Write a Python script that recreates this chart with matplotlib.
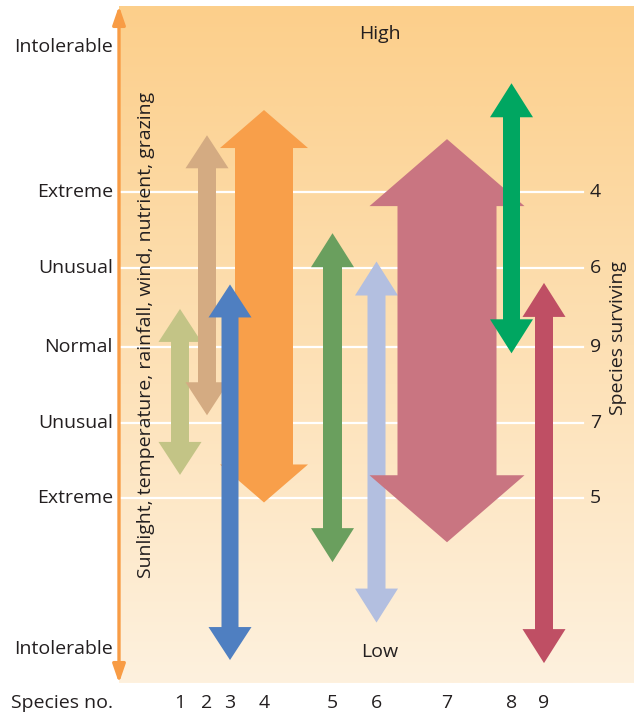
"""
Tolerance ranges of nine species along an environmental gradient
"""
import numpy as np
import matplotlib
matplotlib.use("Agg")
import matplotlib.pyplot as plt
from matplotlib.patches import Polygon
from matplotlib.colors import LinearSegmentedColormap

plt.rcParams['font.family'] = ['Open Sans', 'DejaVu Sans']

# species and their tolerance range (normal = 0, unusual = +-1, extreme = +-2)
species = ["1", "2", "3", "4", "5", "6", "7", "8", "9"]
species_x = [61, 88, 111, 145, 213.5, 257.5, 328, 392.5, 425]
upper = [0.50, 2.77, 0.82, 3.10, 1.49, 1.12, 2.72, 3.45, 0.84]
lower = [-1.67, -0.89, -4.09, -2.03, -2.81, -3.60, -2.55, -0.08, -4.13]

levels = [3.93, 2.03, 1.03, 0, -0.99, -1.97, -3.95]
level_labels = ["Intolerable", "Extreme", "Unusual", "Normal",
                "Unusual", "Extreme", "Intolerable"]
surviving = ["4", "6", "9", "7", "5"]

colors = ["#c3c486", "#d4ab82", "#4f7fc1", "#f89f4a", "#6a9f5e",
          "#b3bfe0", "#c97581", "#00a661", "#bf4f64"]
shaft_w = [18, 18, 17, 58, 19, 18, 99, 17, 18]
head_w = [43, 43, 43, 88, 43, 43, 155, 43, 43]
head_len = [33, 33, 33, 38, 34, 34, 67, 34, 34]
draw_order = [0, 1, 3, 2, 4, 5, 6, 7, 8]

TXT = "#231f20"
PX = 76.5  # pixels per tolerance unit


def double_arrow(x, y0, y1, shaft, head, hlen):
    s, h = shaft / 2, head / 2
    return [(x, y1), (x + h, y1 - hlen), (x + s, y1 - hlen),
            (x + s, y0 + hlen), (x + h, y0 + hlen), (x, y0),
            (x - h, y0 + hlen), (x - s, y0 + hlen),
            (x - s, y1 - hlen), (x - h, y1 - hlen)]


fig = plt.figure(figsize=(6.34, 7.13), dpi=100)
ax = fig.add_axes([119 / 634, 30 / 713, 515 / 634, 677 / 713])
ax.set_xlim(0, 515)
ax.set_ylim(-4.39, 4.46)
ax.axis("off")

# background gradient
cmap = LinearSegmentedColormap.from_list("bg", ["#fef1de", "#fde0b4", "#fccf8b"])
grad = np.linspace(0, 1, 256).reshape(-1, 1)
ax.imshow(grad, cmap=cmap, origin="lower", aspect="auto",
          extent=[0, 515, -4.39, 4.46], zorder=0)

# white guide lines
for lv in levels[1:-1]:
    ax.plot([0, 464], [lv, lv], color="white", lw=1.6, zorder=1)

# species arrows
for z, i in enumerate(draw_order):
    verts = double_arrow(species_x[i], lower[i], upper[i],
                         shaft_w[i], head_w[i], head_len[i] / PX)
    ax.add_patch(Polygon(verts, closed=True, facecolor=colors[i],
                         edgecolor="none", zorder=2 + z))

# left axis arrow
ax.annotate("", xy=(0, 1), xytext=(0, 0), xycoords="axes fraction",
            arrowprops=dict(arrowstyle="<|-|>,head_length=1.1,head_width=0.38",
                            color="#f89c45", lw=2.4, mutation_scale=10,
                            shrinkA=0, shrinkB=0), annotation_clip=False)

fs = 14
for lv, lab in zip(levels, level_labels):
    ax.text(-6, lv, lab, ha="right", va="center", fontsize=fs, color=TXT,
            clip_on=False)
for lv, lab in zip(levels[1:-1], surviving):
    ax.text(471, lv, lab, ha="left", va="center", fontsize=fs, color=TXT)

ax.text(261, 4.10, "High", ha="center", va="center", fontsize=fs, color=TXT, zorder=20)
ax.text(261, -3.99, "Low", ha="center", va="center", fontsize=fs, color=TXT, zorder=20)
ax.text(27, 0.16, "Sunlight, temperature, rainfall, wind, nutrient, grazing",
        rotation=90, ha="center", va="center", fontsize=fs, color=TXT, zorder=20)
ax.text(499, 0.12, "Species surviving", rotation=90, ha="center",
        va="center", fontsize=fs, color=TXT, zorder=20)

ax.text(-6, -4.65, "Species no.", ha="right", va="center", fontsize=fs,
        color=TXT, clip_on=False)
for x, lab in zip(species_x, species):
    ax.text(x, -4.65, lab, ha="center", va="center", fontsize=fs, color=TXT,
            clip_on=False)

fig.savefig("out.png", dpi=100)
